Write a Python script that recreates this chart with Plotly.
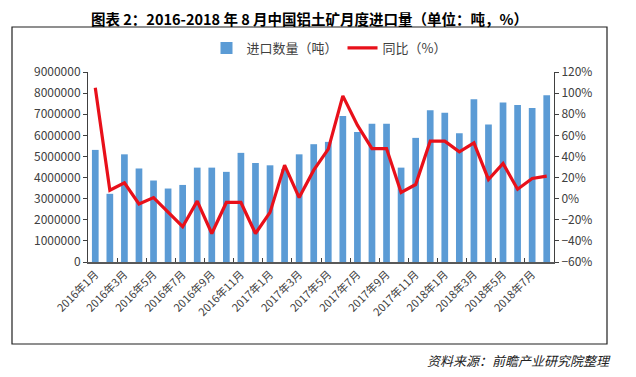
import plotly.graph_objects as go

months = [f"{y}年{m}月" for y in (2016, 2017, 2018) for m in range(1, 13)][:32]

imports_t = [5310000, 3230000, 5100000, 4430000, 3860000, 3480000, 3650000, 4470000,
             4470000, 4270000, 5170000, 4690000, 4580000, 4400000, 5100000, 5580000,
             5690000, 6920000, 6160000, 6550000, 6550000, 4470000, 5880000, 7190000,
             7070000, 6100000, 7710000, 6510000, 7550000, 7440000, 7300000, 7900000]

yoy_pct = [105, 8, 15, -5, 1, -12.4, -26.6, -2.3,
           -33, -3.6, -3.6, -33, -13, 31.8, 1, 27,
           47, 97.4, 69.6, 47.5, 47.5, 5.9, 13.4, 54.5,
           54.5, 44.4, 52.9, 18.2, 33.3, 9, 19.1, 21.4]

OFF = 8  # page body margin
W, H = 636 - OFF, 377 - OFF
L, R, T, B = 88 - OFF, 554 - OFF, 72 - OFF, 262 - OFF
pw, ph = R - L, B - T

def px(x):
    return (x - OFF - L) / pw

def py(y):
    return (B - (y - OFF)) / ph

font_main = "Noto Sans CJK SC, Liberation Sans, sans-serif"

fig = go.Figure()
fig.add_trace(go.Bar(x=months, y=imports_t, name="进口数量（吨）",
                     marker=dict(color="#5B9BD5", line=dict(width=0))))
fig.add_trace(go.Scatter(x=months, y=yoy_pct, name="同比（%）", yaxis="y2",
                         mode="lines", line=dict(color="#E8101A", width=3.2)))

fig.update_layout(
    width=W, height=H,
    margin=dict(l=L, r=W - R, t=T, b=H - B, pad=0),
    paper_bgcolor="white", plot_bgcolor="white",
    bargap=0.54,
    font=dict(family=font_main, size=11, color="#404040"),
    showlegend=True,
    legend=dict(orientation="h", x=px(329), xanchor="center", y=py(48), yanchor="middle",
                font=dict(size=13, color="#404040"), bgcolor="rgba(0,0,0,0)",
                itemwidth=30, tracegroupgap=0),
    xaxis=dict(type="category", tickmode="linear", tick0=0, dtick=2,
               tickson="boundaries", ticks="inside", ticklen=4, tickcolor="#404040",
               showline=True, linecolor="#595959", linewidth=1.5,
               tickangle=-45, tickfont=dict(size=11, color="#404040"),
               showgrid=False, zeroline=False),
    yaxis=dict(range=[0, 9000000], dtick=1000000, tickformat="d",
               ticks="outside", ticklen=4, tickcolor="#404040",
               showline=True, linecolor="#404040", linewidth=1,
               showgrid=False, zeroline=False,
               tickfont=dict(size=12, color="#404040")),
    yaxis2=dict(range=[-60, 120], dtick=20, ticksuffix="%", overlaying="y", side="right",
                ticks="outside", ticklen=4, tickcolor="#404040",
                showline=True, linecolor="#404040", linewidth=1,
                showgrid=False, zeroline=False,
                tickfont=dict(size=12, color="#404040")),
    shapes=[dict(type="rect", xref="paper", yref="paper",
                 x0=px(12), x1=px(607), y0=py(344), y1=py(27),
                 line=dict(color="#202020", width=1.2), layer="below")],
    annotations=[
        dict(text="<b>图表 2：2016-2018 年 8 月中国铝土矿月度进口量（单位：吨，%）</b>",
             xref="paper", yref="paper", x=px(309), y=py(18), xanchor="center", yanchor="middle",
             showarrow=False, borderpad=0,
             font=dict(size=14.5, color="#000000", family=font_main)),
        dict(text="<i>资料来源：前瞻产业研究院整理</i>",
             xref="paper", yref="paper", x=px(613), y=py(360), xanchor="right", yanchor="middle",
             showarrow=False, font=dict(size=13, color="#222222", family=font_main)),
    ],
)

fig.write_html("out.html")
